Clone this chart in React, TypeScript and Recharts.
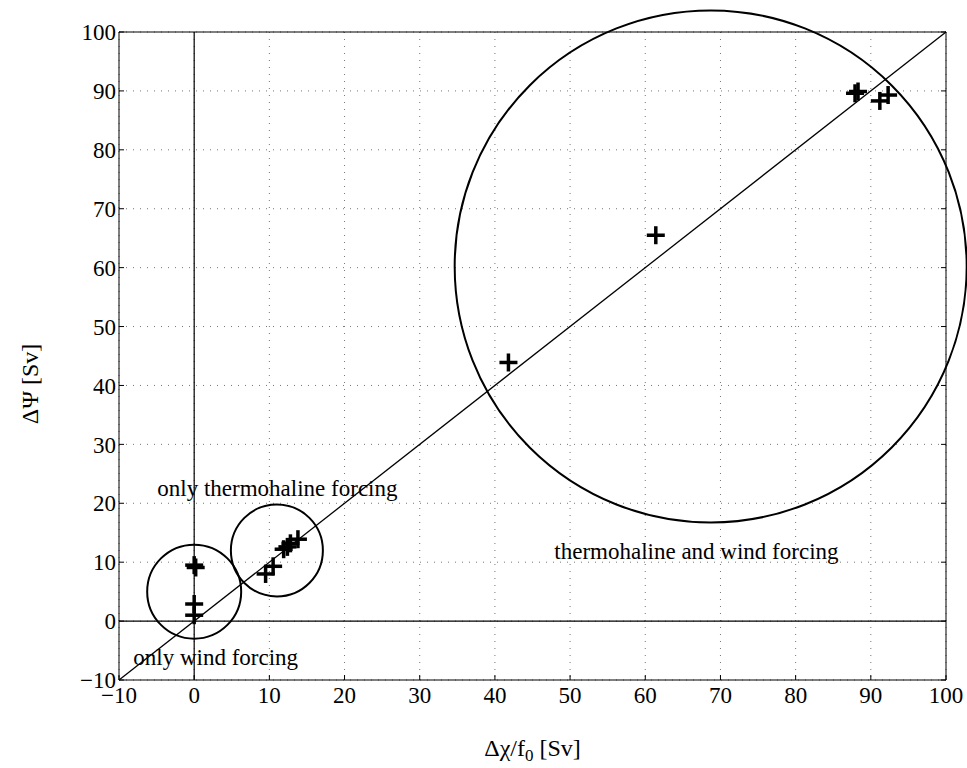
import React from "react";
import {
  ScatterChart,
  Scatter,
  XAxis,
  YAxis,
  CartesianGrid,
  ReferenceLine,
  ReferenceDot,
  Label,
} from "recharts";

// measured transports (Sv)
const deltaChi = [0, 0.2, 0, 0, 9.5, 10.5, 11.9, 12.4, 12.8, 13.8, 41.8, 61.4, 87.9, 88.3, 91.2, 92.3];
const deltaPsi = [9.5, 9.1, 2.9, 1.0, 8.0, 9.3, 12.2, 12.6, 13.2, 13.9, 43.9, 65.5, 89.6, 89.9, 88.3, 89.3];

const ticks = [-10, 0, 10, 20, 30, 40, 50, 60, 70, 80, 90, 100];

// regime circles: centre in data units, radius in pixels
const circleX = [0, 11, 68.7];
const circleY = [5, 12, 60.2];
const circleR = [47, 46, 256];

const noteText = ["only thermohaline forcing", "thermohaline and wind forcing", "only wind forcing"];
const noteX = [-4.9, 47.9, -8.1];
const noteY = [22.6, 11.9, -6.1];

const points = deltaChi.map((x, i) => ({ x, y: deltaPsi[i] }));

const font = "'Liberation Serif', 'DejaVu Serif', serif";
const tickStyle = { fontFamily: font, fontSize: 23, fill: "#000" };
const fmt = (v: number) => String(v).replace("-", "\u2212");

const Plus = (props: any) => {
  const { cx, cy } = props;
  const h = 9;
  return (
    <g stroke="#000" strokeWidth={3.5}>
      <line x1={cx - h} y1={cy} x2={cx + h} y2={cy} />
      <line x1={cx} y1={cy - h} x2={cx} y2={cy + h} />
    </g>
  );
};

const noteLabel = (text: string) => (props: any) => {
  const vb = props.viewBox || {};
  return (
    <text x={vb.x} y={vb.y} dy="0.35em" textAnchor="start" fontFamily={font} fontSize={23} fill="#000">
      {text}
    </text>
  );
};

export default function App() {
  return (
    <div style={{ position: "absolute", left: 0, top: 0, background: "#fff" }}>
      <ScatterChart
        width={967}
        height={768}
        margin={{ top: 22, right: 11, bottom: 0, left: 0 }}
        style={{ overflow: "visible" }}
      >
        <CartesianGrid stroke="#777" strokeDasharray="1 6" horizontalValues={ticks} verticalValues={ticks} />
        <XAxis
          type="number"
          dataKey="x"
          domain={[-10, 100]}
          ticks={ticks}
          height={88}
          stroke="#000"
          tickSize={-5}
          tickMargin={12}
          tick={tickStyle}
          tickFormatter={fmt}
          allowDataOverflow
        >
          <Label
            content={(p: any) => {
              const vb = p.viewBox;
              return (
                <text x={vb.x + vb.width / 2} y={vb.y + 76} textAnchor="middle" fontFamily={font} fontSize={24} fill="#000">
                  {"\u0394\u03C7/f"}
                  <tspan fontSize={17} dy={5}>0</tspan>
                  <tspan dy={-5}>{"  [Sv]"}</tspan>
                </text>
              );
            }}
          />
        </XAxis>
        <XAxis
          xAxisId="top"
          orientation="top"
          type="number"
          domain={[-10, 100]}
          ticks={ticks}
          height={10}
          stroke="#000"
          tickSize={-5}
          tickFormatter={() => ""}
          allowDataOverflow
        />
        <YAxis
          type="number"
          dataKey="y"
          domain={[-10, 100]}
          ticks={ticks}
          width={119}
          stroke="#000"
          tickSize={-5}
          tickMargin={8}
          tick={tickStyle}
          tickFormatter={fmt}
          allowDataOverflow
        >
          <Label
            content={(p: any) => {
              const vb = p.viewBox;
              const cx = vb.x + 38;
              const cy = vb.y + vb.height / 2 + 28;
              return (
                <text x={cx} y={cy} transform={`rotate(-90 ${cx} ${cy})`} textAnchor="middle" fontFamily={font} fontSize={24} fill="#000">
                  {"\u0394\u03A8  [Sv]"}
                </text>
              );
            }}
          />
        </YAxis>
        <YAxis
          yAxisId="right"
          orientation="right"
          type="number"
          domain={[-10, 100]}
          ticks={ticks}
          width={10}
          stroke="#000"
          tickSize={-5}
          tickFormatter={() => ""}
          allowDataOverflow
        />
        <ReferenceLine x={0} stroke="#000" strokeWidth={1.2} />
        <ReferenceLine y={0} stroke="#000" strokeWidth={1.2} />
        <ReferenceLine
          segment={[
            { x: -10, y: -10 },
            { x: 100, y: 100 },
          ]}
          stroke="#000"
          strokeWidth={1.3}
        />
        {circleX.map((cx, i) => (
          <ReferenceDot
            key={"c" + i}
            x={cx}
            y={circleY[i]}
            r={circleR[i]}
            fill="none"
            stroke="#000"
            strokeWidth={2}
          />
        ))}
        {noteText.map((t, i) => (
          <ReferenceDot
            key={"n" + i}
            x={noteX[i]}
            y={noteY[i]}
            r={0}
            fill="none"
            stroke="none"
            label={noteLabel(t)}
          />
        ))}
        <Scatter data={points} shape={Plus} isAnimationActive={false} />
      </ScatterChart>
    </div>
  );
}
